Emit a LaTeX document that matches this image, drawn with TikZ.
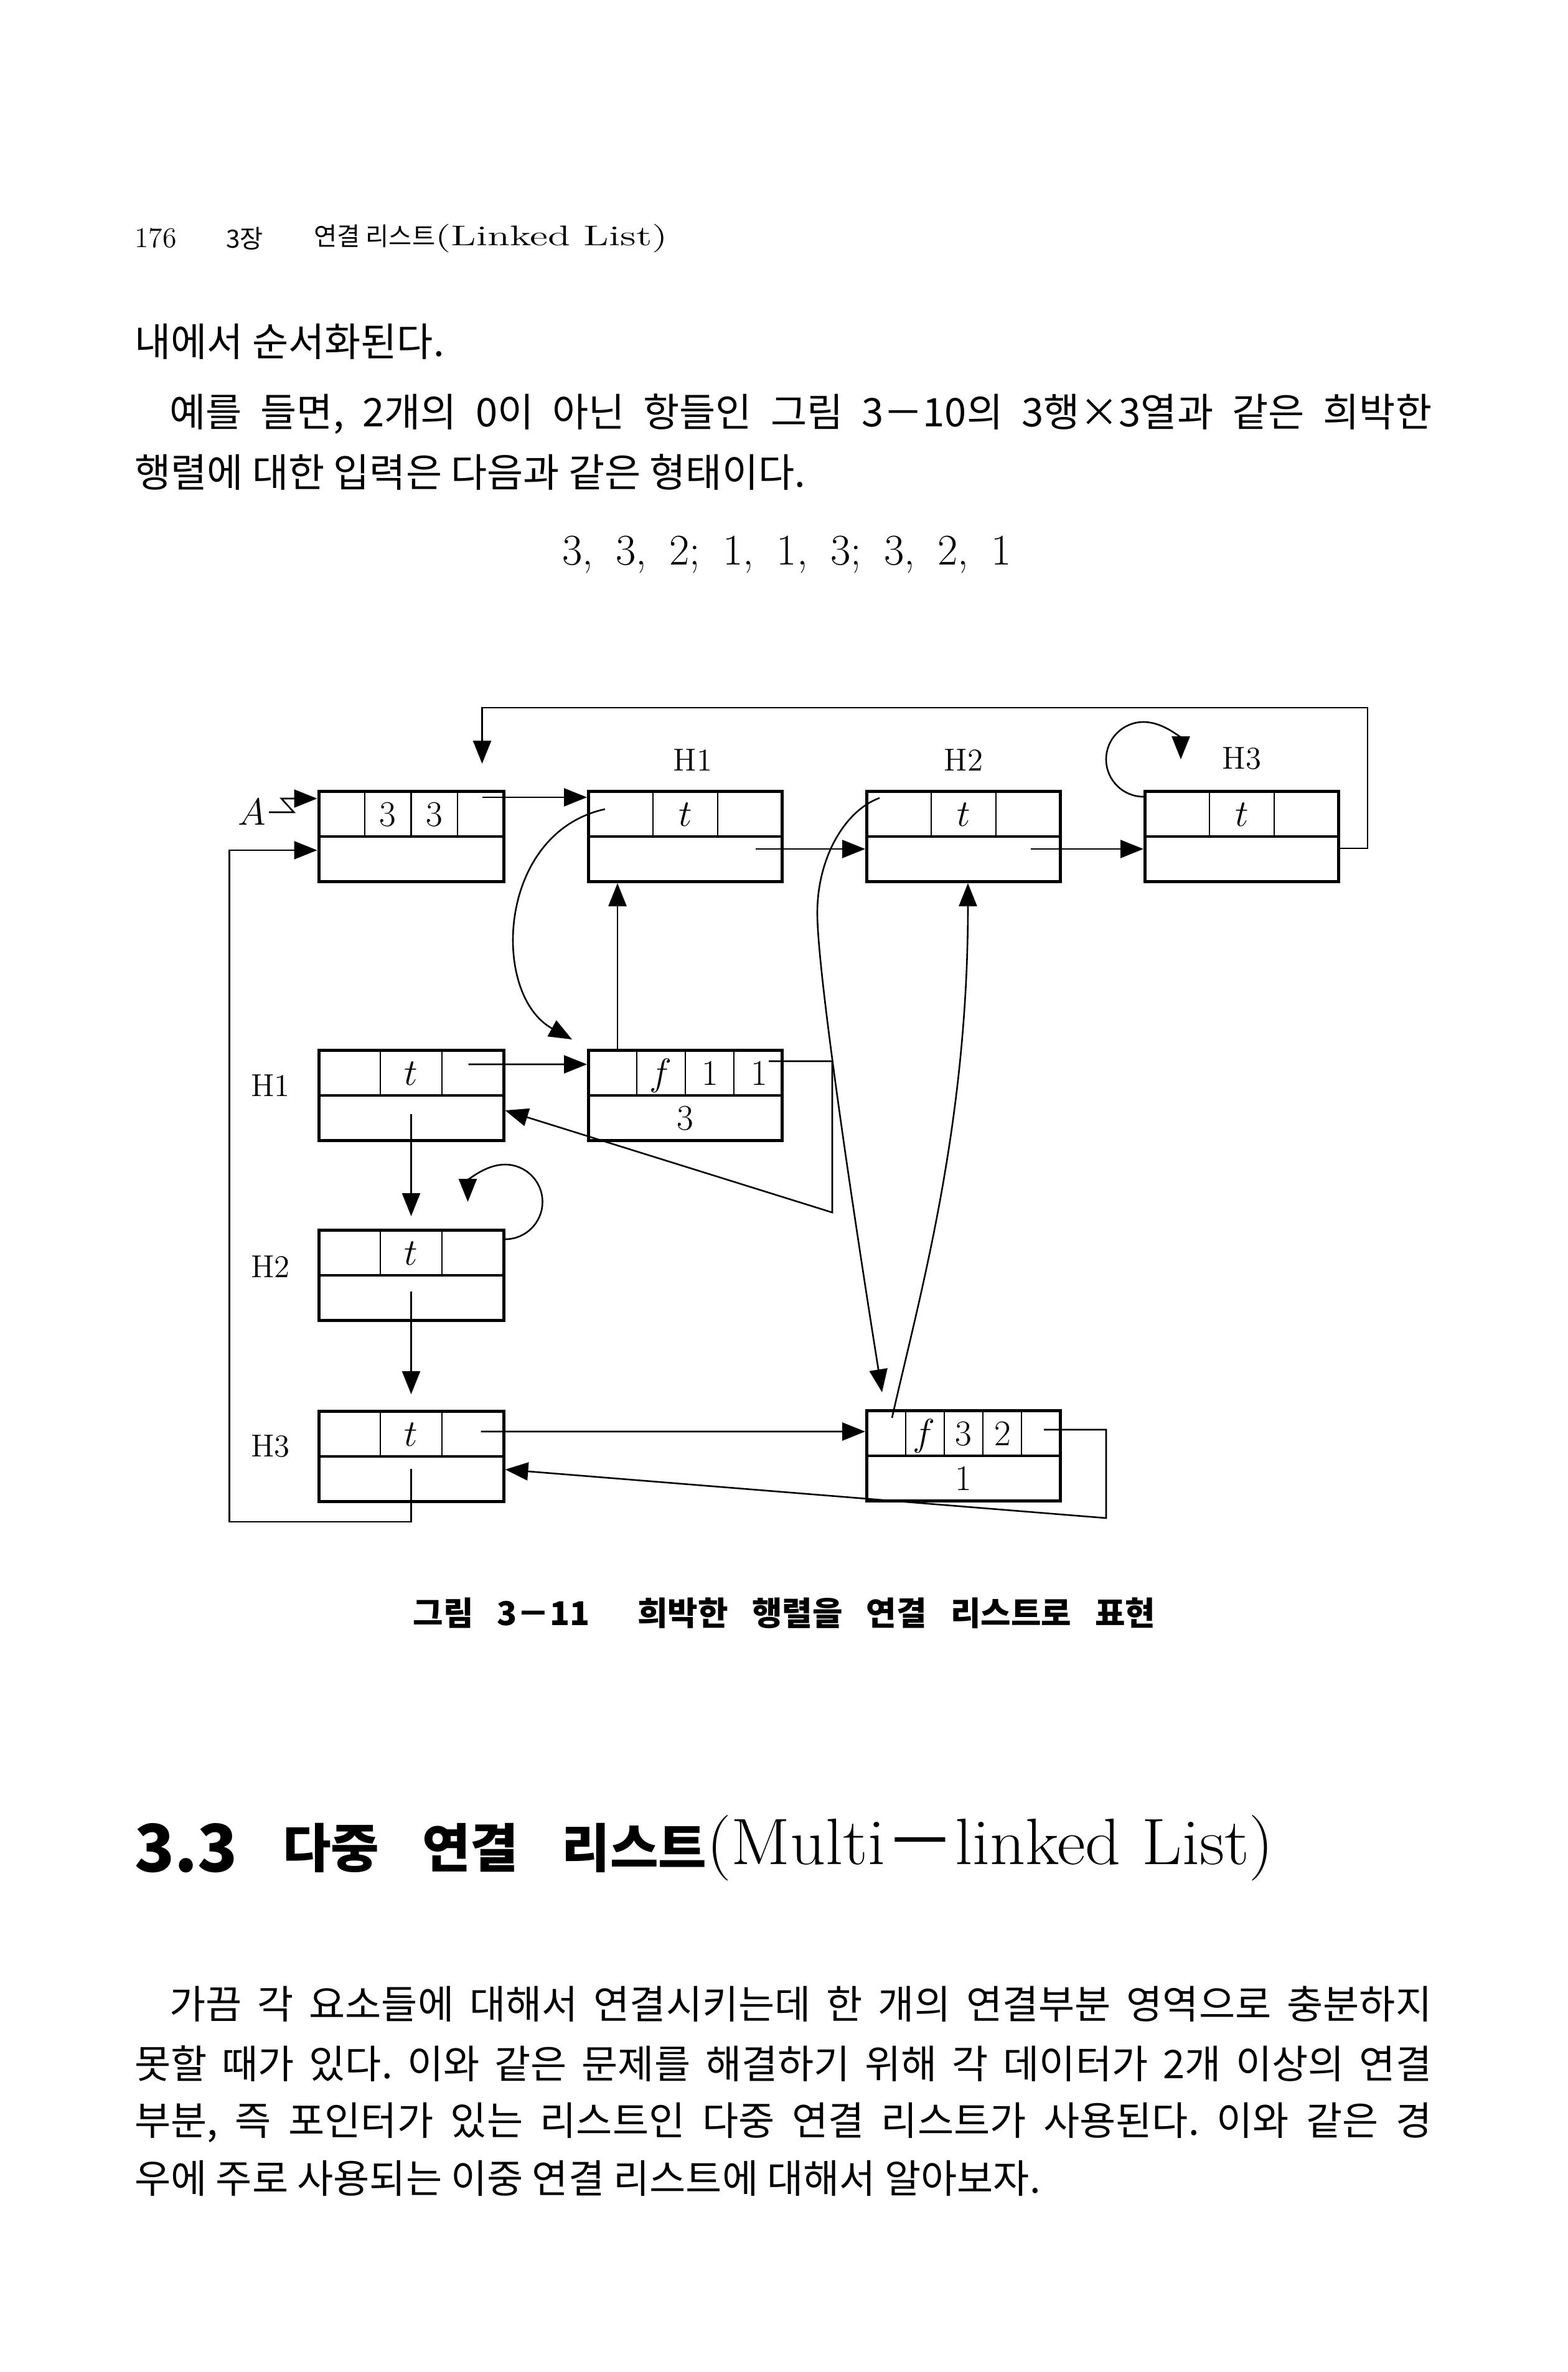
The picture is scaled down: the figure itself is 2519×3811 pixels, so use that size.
\documentclass[tikz,border=0pt]{standalone}
\usepackage{fontspec}
\newfontfamily\kr{Noto Sans CJK KR}
\usepackage{tikz}
\usetikzlibrary{arrows.meta,positioning,calc}
\frenchspacing
\tikzset{
  rec/.style={
    draw,
    line width=0.5mm,
    minimum height=14.5mm,
    inner sep=0pt
  },
  cells/.style={
    path picture={
      \draw[line width=0.35mm] (path picture bounding box.west) -- (path picture bounding box.east);
      \foreach \k in {#1}
        \draw[line width=0.22mm] ($(path picture bounding box.north west)!\k!(path picture bounding box.north east)$)
          -- ($(path picture bounding box.west)!\k!(path picture bounding box.east)$);
    }
  },
  listhead/.style={rec, minimum width=29.7mm, cells={0.25,0.5,0.75}},
  colhead/.style={rec, minimum width=31.1mm, cells={0.3333,0.6667}},
  rowhead/.style={rec, minimum width=29.7mm, cells={0.3333,0.6667}},
  elem4/.style={rec, minimum width=31.1mm, cells={0.25,0.5,0.75}},
  elem5/.style={rec, minimum width=31.1mm, cells={0.2,0.4,0.6,0.8}},
  celltxt/.style={anchor=base, yshift=-5.8mm, inner sep=0pt, font=\fontsize{16.5}{19}\selectfont},
  lowtxt/.style={anchor=base, yshift=-13mm, inner sep=0pt, font=\fontsize{16.5}{19}\selectfont},
  lab/.style={inner sep=0pt, font=\fontsize{14.5}{17}\selectfont},
  body/.style={anchor=west, inner sep=0pt, font=\kr\fontsize{18}{21}\selectfont}
}

\begin{document}
\begin{tikzpicture}[x=0.1mm, y=-0.1mm, >={Triangle[length=3.7mm,width=2.9mm]},
  line width=0.26mm, node distance=44.7mm]
 \path[use as bounding box, fill=white] (0,0) rectangle (2519,3811);
 % page text
 \node[anchor=west, inner sep=0pt, font=\fontsize{13}{15}\selectfont] (pno) at (215,383) {176};
 \node[anchor=west, inner sep=0pt, font=\kr\fontsize{11.5}{15}\selectfont] (chap) at (362,383) {3장};
 \node[anchor=west, inner sep=0pt, font=\fontsize{13}{15}\selectfont] (run) at (503,383)
   {{\kr\fontsize{11.5}{15}\selectfont 연결 리스트}\scalebox{1.45}[1]{(Linked List)}};
 \node[body] (l1) at (215,549) {내에서 순서화된다.};
 \node[body] (l2) at (271,665) {\makebox[202.8mm][s]{예를 들면, 2개의 0이 아닌 항들인 그림 3－10의 3행×3열과 같은 희박한}};
 \node[body] (l3) at (215,759) {행렬에 대한 입력은 다음과 같은 형태이다.};
 \node[inner sep=0pt, font=\fontsize{20}{24}\selectfont] (inp) at (1264,891) {\makebox[72.2mm][s]{3, 3, 2; 1, 1, 3; 3, 2, 1}};

 % boxes
 \node[listhead] (A) at (660.5,1344) {};
 \node[colhead] (H1c) at (1101,1344) {};
 \node[colhead, right of=H1c] (H2c) {};
 \node[colhead, right of=H2c] (H3c) {};
 \node[rowhead] (H1r) at (660.5,1760) {};
 \node[elem4, node distance=41.6mm, below of=H1c] (f11) {};
 \node[rowhead] (H2r) at (660.5,2049) {};
 \node[rowhead] (H3r) at (660.5,2340) {};
 \node[elem5] (f32) at (1548,2339) {};

 % cell contents
 \node[celltxt] (a2) at ($(A.north west)!0.375!(A.north east)$) {3};
 \node[celltxt] (a3) at ($(A.north west)!0.625!(A.north east)$) {3};
 \node[celltxt] (t1c) at (H1c.north) {$t$};
 \node[celltxt] (t2c) at (H2c.north) {$t$};
 \node[celltxt] (t3c) at (H3c.north) {$t$};
 \node[celltxt] (t1r) at (H1r.north) {$t$};
 \node[celltxt] (t2r) at (H2r.north) {$t$};
 \node[celltxt] (t3r) at (H3r.north) {$t$};
 \node[celltxt] (f11a) at ($(f11.north west)!0.375!(f11.north east)$) {$f$};
 \node[celltxt] (f11b) at ($(f11.north west)!0.625!(f11.north east)$) {1};
 \node[celltxt] (f11c) at ($(f11.north west)!0.875!(f11.north east)$) {1};
 \node[lowtxt] (f11v) at (f11.north) {3};
 \node[celltxt] (f32a) at ($(f32.north west)!0.3!(f32.north east)$) {$f$};
 \node[celltxt] (f32b) at ($(f32.north west)!0.5!(f32.north east)$) {3};
 \node[celltxt] (f32c) at ($(f32.north west)!0.7!(f32.north east)$) {2};
 \node[lowtxt] (f32v) at (f32.north) {1};

 % labels
 \node[font=\fontsize{17}{20}\selectfont, inner sep=1pt] (alab) at (405,1305) {$A$};
 \node[lab] (h1top) at ([xshift=1.2mm,yshift=4.8mm]H1c.north) {H1};
 \node[lab] (h2top) at ([yshift=4.8mm]H2c.north) {H2};
 \node[lab] (h3top) at ([yshift=5mm]H3c.north) {H3};
 \node[lab] (h1left) at ([xshift=-7.5mm,yshift=1.6mm]H1r.west) {H1};
 \node[lab] (h2left) at ([xshift=-7.5mm,yshift=1.4mm]H2r.west) {H2};
 \node[lab] (h3left) at ([xshift=-7.5mm,yshift=1.6mm]H3r.west) {H3};

 % links
 \draw[->] (alab.east) -- ++(40,0) -- ++(-20,-22) coordinate (az) -- (az -| A.west);
 \draw[->] ([xshift=-3.7mm,yshift=-1.2mm]A.north east) -- ([yshift=-1.2mm]H1c.north west);
 \draw[->] ([xshift=11.3mm,yshift=-2mm]H1c.center) -- ([yshift=-2mm]H2c.west);
 \draw[->] ([xshift=10.8mm,yshift=-2mm]H2c.center) -- ([yshift=-2mm]H3c.west);
 \draw[->] ([yshift=-1.9mm]H3c.east) -- ++(44,0) |- ([xshift=-3.7mm,yshift=13.2mm]A.north east)
   -- ([xshift=-3.7mm,yshift=4.2mm]A.north east);
 \draw[->] ([yshift=-1.1mm]H3c.north west) arc[start angle=90, end angle=360, radius=60];
 \draw[->] ([xshift=2.9mm,yshift=-3.1mm]H1c.north west) .. controls +(-174,38) and +(-131,-72)
   .. ([xshift=-2.4mm,yshift=1.5mm]f11.north west);
 \draw[->] ([xshift=4.9mm]f11.north west) -- ([xshift=4.9mm]H1c.south west);
 \draw[->] ([xshift=9.2mm,yshift=5mm]H1r.center) -- ([yshift=5mm]f11.west);
 \draw[->] ([xshift=-2.4mm,yshift=-2mm]f11.north east) -- ++(102,0) -- ++(0,243) -- ([yshift=-2.4mm]H1r.east);
 \draw[->] ([yshift=-3mm]H1r.center) -- ([yshift=2mm]H2r.north);
 \draw[->] ([yshift=-1.7mm]H2r.north east) arc[start angle=90, end angle=-180, radius=60];
 \draw[->] ([yshift=-2.6mm]H2r.center) -- ([yshift=2.5mm]H3r.north);
 \draw[->] ([xshift=11.2mm,yshift=4mm]H3r.center) -- ([yshift=3.9mm]f32.west);
 \draw[->] ([xshift=-2.9mm,yshift=-3.3mm]f32.north east) -- ++(100,0) -- ++(0,142) -- ([yshift=-2.1mm]H3r.east);
 \draw[->] ([xshift=2.3mm,yshift=-1.3mm]H2c.north west) .. controls +(-55,20) and +(0,-90) .. ++(-100,185)
   .. controls +(0,100) and +(-40,-250) .. ([xshift=2.7mm,yshift=2.7mm]f32.north west);
 \draw[->] ([xshift=4.3mm,yshift=-1.4mm]f32.north west) .. controls +(45,-199) and +(0,390)
   .. ([xshift=0.7mm]H2c.south);
 \draw[->] ([yshift=-2mm]H3r.center) |- ([xshift=-14.1mm,yshift=-3mm]H3r.south west) |- ([yshift=-2.2mm]A.west);

 % caption and next section
 \node[inner sep=0pt, font=\kr\bfseries\fontsize{15}{18}\selectfont] (cap) at (1260,2592)
   {\makebox[119.3mm][s]{그림 3－11\ \ 희박한 행렬을 연결 리스트로 표현}};
 \node[anchor=west, inner sep=0pt, font=\kr\bfseries\fontsize{30}{34}\selectfont] (secno) at (215,2969) {3.3};
 \node[anchor=west, inner sep=0pt, font=\kr\bfseries\fontsize{24}{28}\selectfont] (sectit) at (453,2969)
   {\makebox[68.1mm][s]{다중 연결 리스트}};
 \node[anchor=west, inner sep=0pt, font=\fontsize{30}{34}\selectfont] (seceng) at (1134,2969)
   {\scalebox{1.06}[1]{(Multi{\kr －}linked List)}};
 \node[body] (p1) at (271,3220) {\makebox[202.8mm][s]{가끔 각 요소들에 대해서 연결시키는데 한 개의 연결부분 영역으로 충분하지}};
 \node[body] (p2) at (215,3316) {\makebox[208.4mm][s]{못할 때가 있다. 이와 같은 문제를 해결하기 위해 각 데이터가 2개 이상의 연결}};
 \node[body] (p3) at (215,3410) {\makebox[208.4mm][s]{부분, 즉 포인터가 있는 리스트인 다중 연결 리스트가 사용된다. 이와 같은 경}};
 \node[body] (p4) at (215,3500) {우에 주로 사용되는 이중 연결 리스트에 대해서 알아보자.};
\end{tikzpicture}
\end{document}
